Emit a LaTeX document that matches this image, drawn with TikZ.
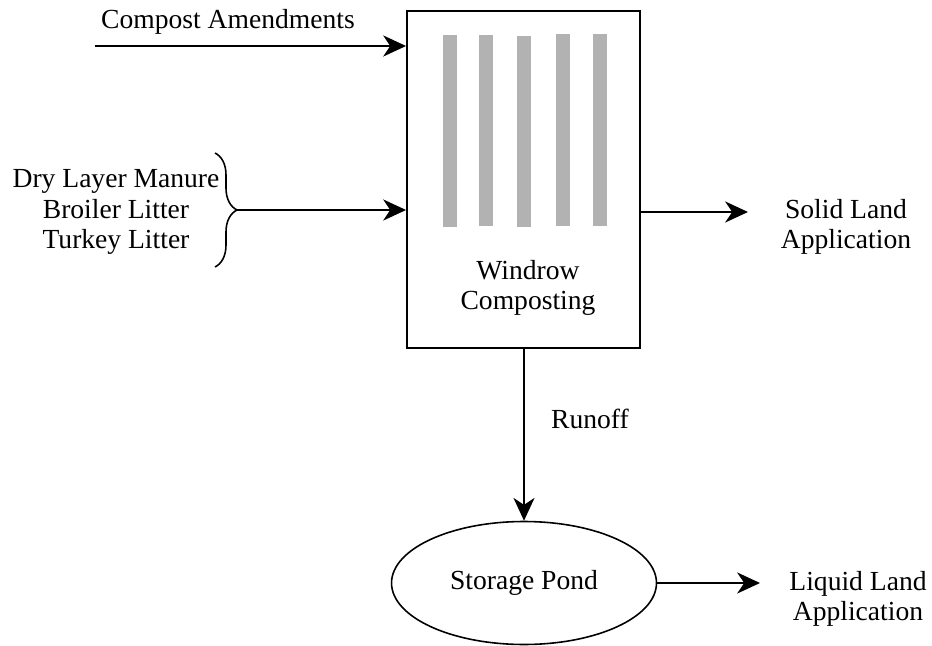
\documentclass[tikz,border=0pt]{standalone}
\usepackage{fontspec}
\setmainfont{Liberation Serif}
\usetikzlibrary{arrows.meta,positioning,shapes.geometric,calc,decorations.pathreplacing}
\definecolor{rowgray}{RGB}{178,178,178}

\begin{document}
\begin{tikzpicture}[x=0.02cm,y=-0.02cm,
    flow/.style={-{Stealth[length=13pt,width=12pt,inset=4pt]},line width=1.1pt},
    lbl/.style={font=\fontsize{15.7}{17.4}\selectfont,align=center,inner sep=0pt}]
  \useasboundingbox (0,0) rectangle (932,645);
  % composting box and its windrows
  \node[draw,line width=1.1pt,minimum width=4.66cm,minimum height=6.74cm,inner sep=0pt] (windrow) at (523.5,179.5) {};
  \foreach \x/\top/\bot in {450/35/227,486/35/226,524/36/227,562.5/34/226,600/34/226}
    \fill[rowgray] (\x-7,\top) rectangle (\x+7,\bot);
  \node[lbl] (wlabel) at (528,288) {Windrow\\Composting};
  \node[draw,ellipse,line width=0.9pt,minimum width=5.3cm,minimum height=2.46cm,lbl] (pond) at (524,583) {Storage Pond};
  % inputs
  \node[lbl] (amend) at (228,22) {Compost Amendments};
  \coordinate (amendstart) at (95,46);
  \draw[flow] (amendstart) -- (amendstart -| windrow.west);
  \node[lbl] (inputs) at (116,212) {Dry Layer Manure\\Broiler Litter\\Turkey Litter};
  \draw[decorate,decoration={brace,amplitude=0.44cm},line width=0.9pt] (215,153) -- (215,267);
  \coordinate (bracetip) at (237,210);
  \draw[flow] (bracetip) -- (bracetip -| windrow.west);
  % outputs
  \coordinate (solidend) at (748,212);
  \draw[flow] (solidend -| windrow.east) -- (solidend);
  \node[lbl] (solid) at (846,227) {Solid Land\\Application};
  \draw[flow] (pond.north |- windrow.south) -- (pond.north);
  \node[lbl] (runoff) at (590,419) {Runoff};
  \coordinate (liquidend) at (760,583);
  \draw[flow] (pond.east) -- (liquidend);
  \node[lbl] (liquid) at (858,599) {Liquid Land\\Application};
\end{tikzpicture}
\end{document}
